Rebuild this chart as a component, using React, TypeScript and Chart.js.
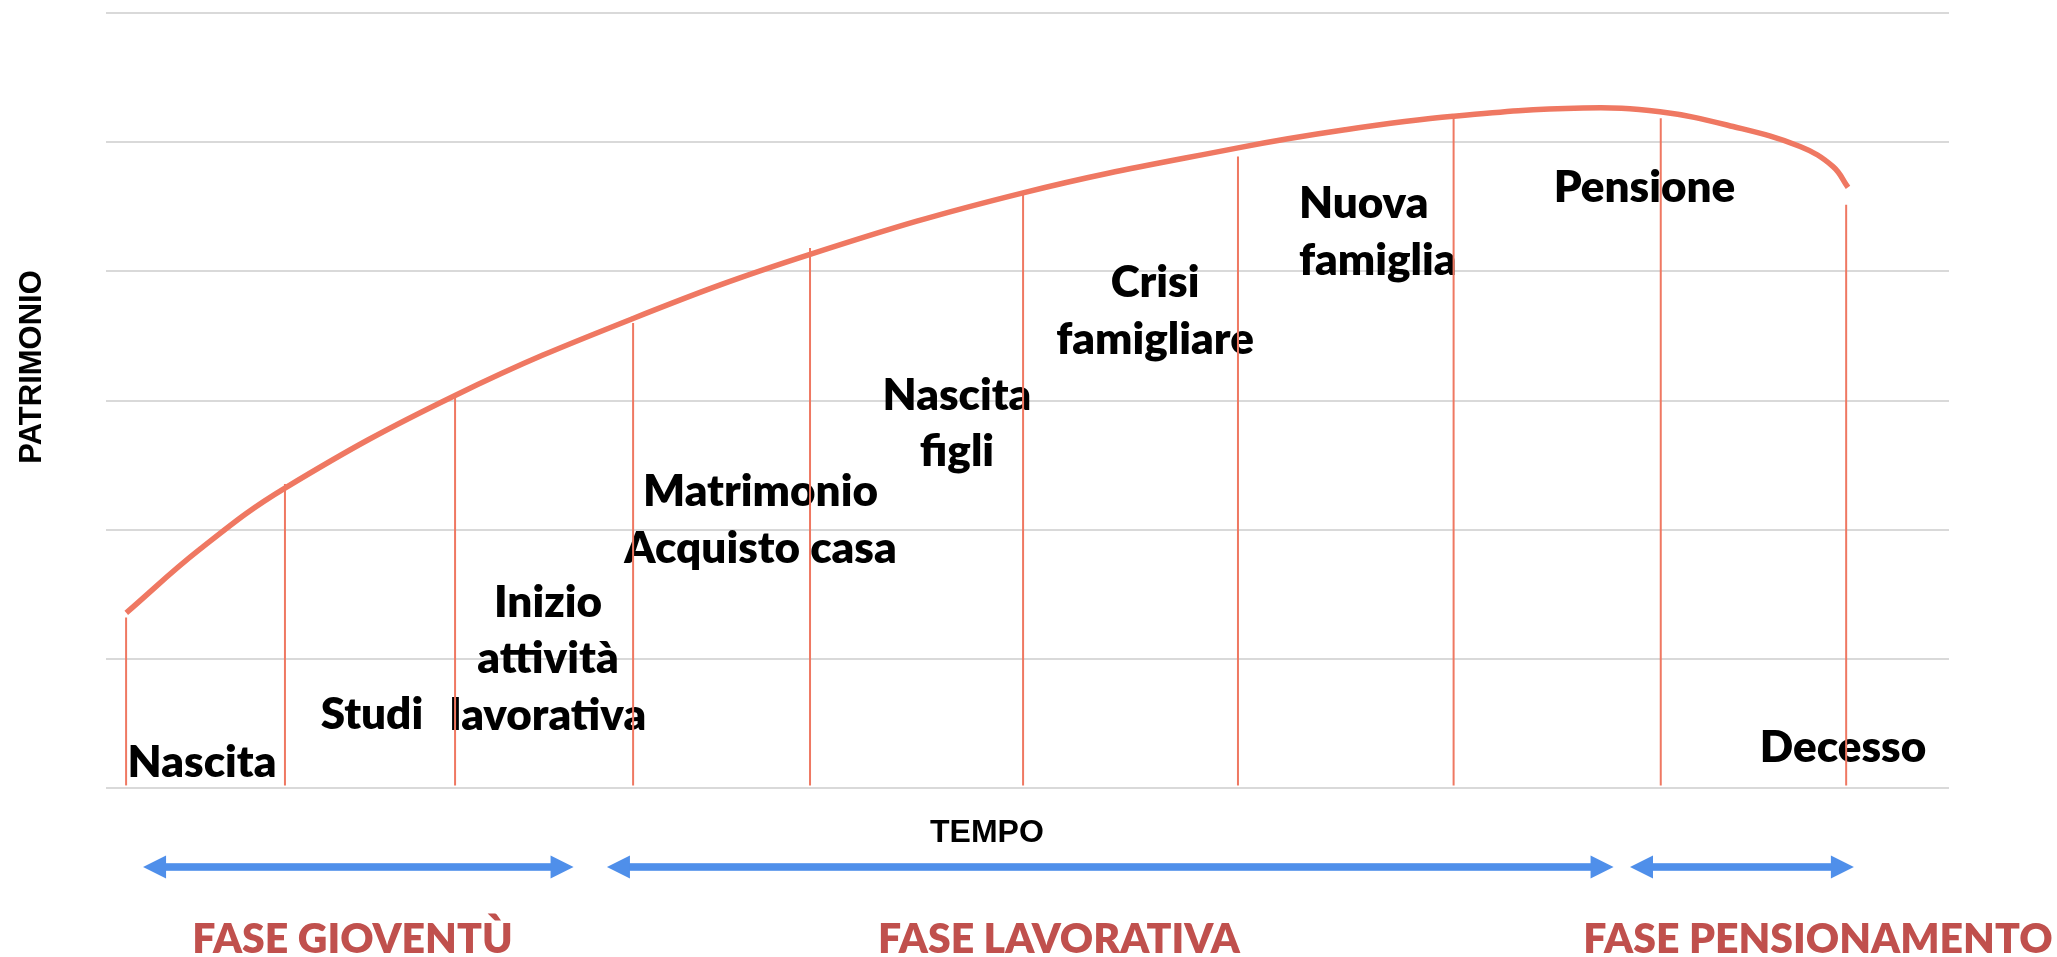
import React, { useEffect, useRef } from "react";
import { Chart, registerables } from "chart.js";

Chart.register(...registerables);

// ---- Data (x = tempo, 0..100 ; y = patrimonio, 0..6) ----
const curveX = [1.1, 5.1, 9.71, 18.94, 28.6, 38.2, 49.76, 61.42, 67.23, 73.09, 80.14, 84.32, 88.28, 91.92, 93.71, 94.52];
const curveY = [1.356, 1.849, 2.322, 3.039, 3.635, 4.131, 4.608, 4.956, 5.096, 5.2, 5.264, 5.235, 5.121, 4.966, 4.811, 4.65];

const eventX = [1.09, 9.71, 18.94, 28.6, 38.2, 49.76, 61.42, 73.12, 84.36, 94.42];
const eventTop = [1.32, 2.353, 3.022, 3.6, 4.181, 4.592, 4.889, 5.186, 5.186, 4.515];
const eventBase = 0.02;

const labelLines = [
  ["Nascita"],
  ["Studi"],
  ["Inizio", "attività", "lavorativa"],
  ["Matrimonio", "Acquisto casa"],
  ["Nascita", "figli"],
  ["Crisi", "famigliare"],
  ["Nuova", "famiglia"],
  ["Pensione"],
  ["Decesso"],
];
const labelX = [5.21, 14.43, 23.98, 35.51, 46.17, 56.92, 64.73, 83.48, 94.25];
const labelY = [0.085, 0.455, 1.325, 2.18, 2.93, 3.8, 4.41, 4.54, 0.2];
const labelAlign = ["center", "center", "center", "center", "center", "center", "left", "center", "center"];

const phaseNames = ["FASE GIOVENTÙ", "FASE LAVORATIVA", "FASE PENSIONAMENTO"];
const phaseStart = [2.01, 27.18, 82.69];
const phaseEnd = [25.37, 81.8, 94.84];
const phaseLabelX = [13.37, 51.71, 92.89];

const xTitle = "TEMPO";
const xTitleX = 47.8;
const yTitle = "PATRIMONIO";
const yTitleY = 3.26;

const yMin = 0;
const yMax = 6;
const xMin = 0;
const xMax = 100;

// ---- Styles ----
const SALMON = "#EF7862";
const BLUE = "#4F8FEA";
const PHASE_RED = "#C0504D";
const LABEL_FONT = "800 44px Lato";
const PHASE_FONT = "800 41px Lato";
const LINE_H = 56.5;

const annotPlugin = {
  id: "annot",
  beforeDatasetsDraw(chart: any) {
    const { ctx, scales } = chart;
    const x = scales.x;
    const y = scales.y;
    ctx.save();
    ctx.fillStyle = "#000000";
    ctx.font = LABEL_FONT;
    ctx.textBaseline = "alphabetic";
    labelLines.forEach((lines, i) => {
      ctx.textAlign = labelAlign[i] as CanvasTextAlign;
      const px = x.getPixelForValue(labelX[i]);
      const py = y.getPixelForValue(labelY[i]);
      lines.forEach((t, j) => ctx.fillText(t, px, py + j * LINE_H));
    });
    ctx.restore();
  },
  afterDraw(chart: any) {
    const { ctx, scales, chartArea } = chart;
    const x = scales.x;
    const y = scales.y;
    ctx.save();
    // arrows
    const cy = chartArea.bottom + 79;
    const half = 3.8;
    const headL = 23;
    const headH = 11.5;
    ctx.fillStyle = BLUE;
    phaseNames.forEach((_, i) => {
      const sx = x.getPixelForValue(phaseStart[i]);
      const ex = x.getPixelForValue(phaseEnd[i]);
      ctx.fillRect(sx + headL - 1, cy - half, ex - sx - 2 * headL + 2, half * 2);
      ctx.beginPath();
      ctx.moveTo(sx, cy);
      ctx.lineTo(sx + headL, cy - headH);
      ctx.lineTo(sx + headL, cy + headH);
      ctx.closePath();
      ctx.fill();
      ctx.beginPath();
      ctx.moveTo(ex, cy);
      ctx.lineTo(ex - headL, cy - headH);
      ctx.lineTo(ex - headL, cy + headH);
      ctx.closePath();
      ctx.fill();
    });
    // phase labels
    ctx.fillStyle = PHASE_RED;
    ctx.font = PHASE_FONT;
    ctx.textAlign = "center";
    ctx.textBaseline = "alphabetic";
    phaseNames.forEach((t, i) => {
      ctx.fillText(t, x.getPixelForValue(phaseLabelX[i]), chartArea.bottom + 165);
    });
    // axis titles
    ctx.fillStyle = "#000000";
    ctx.font = "bold 32px 'Liberation Sans', Arial, sans-serif";
    ctx.fillText(xTitle, x.getPixelForValue(xTitleX), chartArea.bottom + 54);
    ctx.translate(chartArea.left - 65, y.getPixelForValue(yTitleY));
    ctx.rotate(-Math.PI / 2);
    ctx.font = "bold 31px 'Liberation Sans', Arial, sans-serif";
    ctx.fillText(yTitle, 0, 0);
    ctx.restore();
  },
};

export default function App() {
  const canvasRef = useRef<HTMLCanvasElement | null>(null);

  useEffect(() => {
    const canvas = canvasRef.current;
    if (!canvas) return;
    const curveData = curveX.map((v, i) => ({ x: v, y: curveY[i] }));
    const eventSets = eventX.map((v, i) => ({
      type: "line" as const,
      data: [
        { x: v, y: eventBase },
        { x: v, y: eventTop[i] },
      ],
      borderColor: SALMON,
      borderWidth: 2,
      pointRadius: 0,
      tension: 0,
    }));
    const chart = new Chart(canvas, {
      type: "scatter",
      data: {
        datasets: [
          {
            type: "line",
            data: curveData,
            borderColor: SALMON,
            borderWidth: 5.5,
            pointRadius: 0,
            tension: 0.4,
          } as any,
          ...eventSets,
        ],
      },
      options: {
        animation: false,
        responsive: false,
        maintainAspectRatio: false,
        layout: { padding: { left: 106, right: 108, top: 13, bottom: 169 } },
        plugins: { legend: { display: false }, tooltip: { enabled: false } },
        events: [],
        scales: {
          x: {
            type: "linear",
            min: xMin,
            max: xMax,
            grid: { display: false, drawTicks: false },
            border: { display: false },
            ticks: { display: false },
          },
          y: {
            type: "linear",
            min: yMin,
            max: yMax,
            grid: { color: "#D9D9D9", lineWidth: 2, drawTicks: false },
            border: { display: false },
            ticks: { display: false, stepSize: 1 },
          },
        },
      },
      plugins: [annotPlugin],
    });
    return () => chart.destroy();
  }, []);

  return (
    <div style={{ position: "absolute", left: 0, top: 0, width: 2057, height: 957, background: "#ffffff" }}>
      <canvas ref={canvasRef} width={2057} height={957} style={{ display: "block" }} />
    </div>
  );
}
